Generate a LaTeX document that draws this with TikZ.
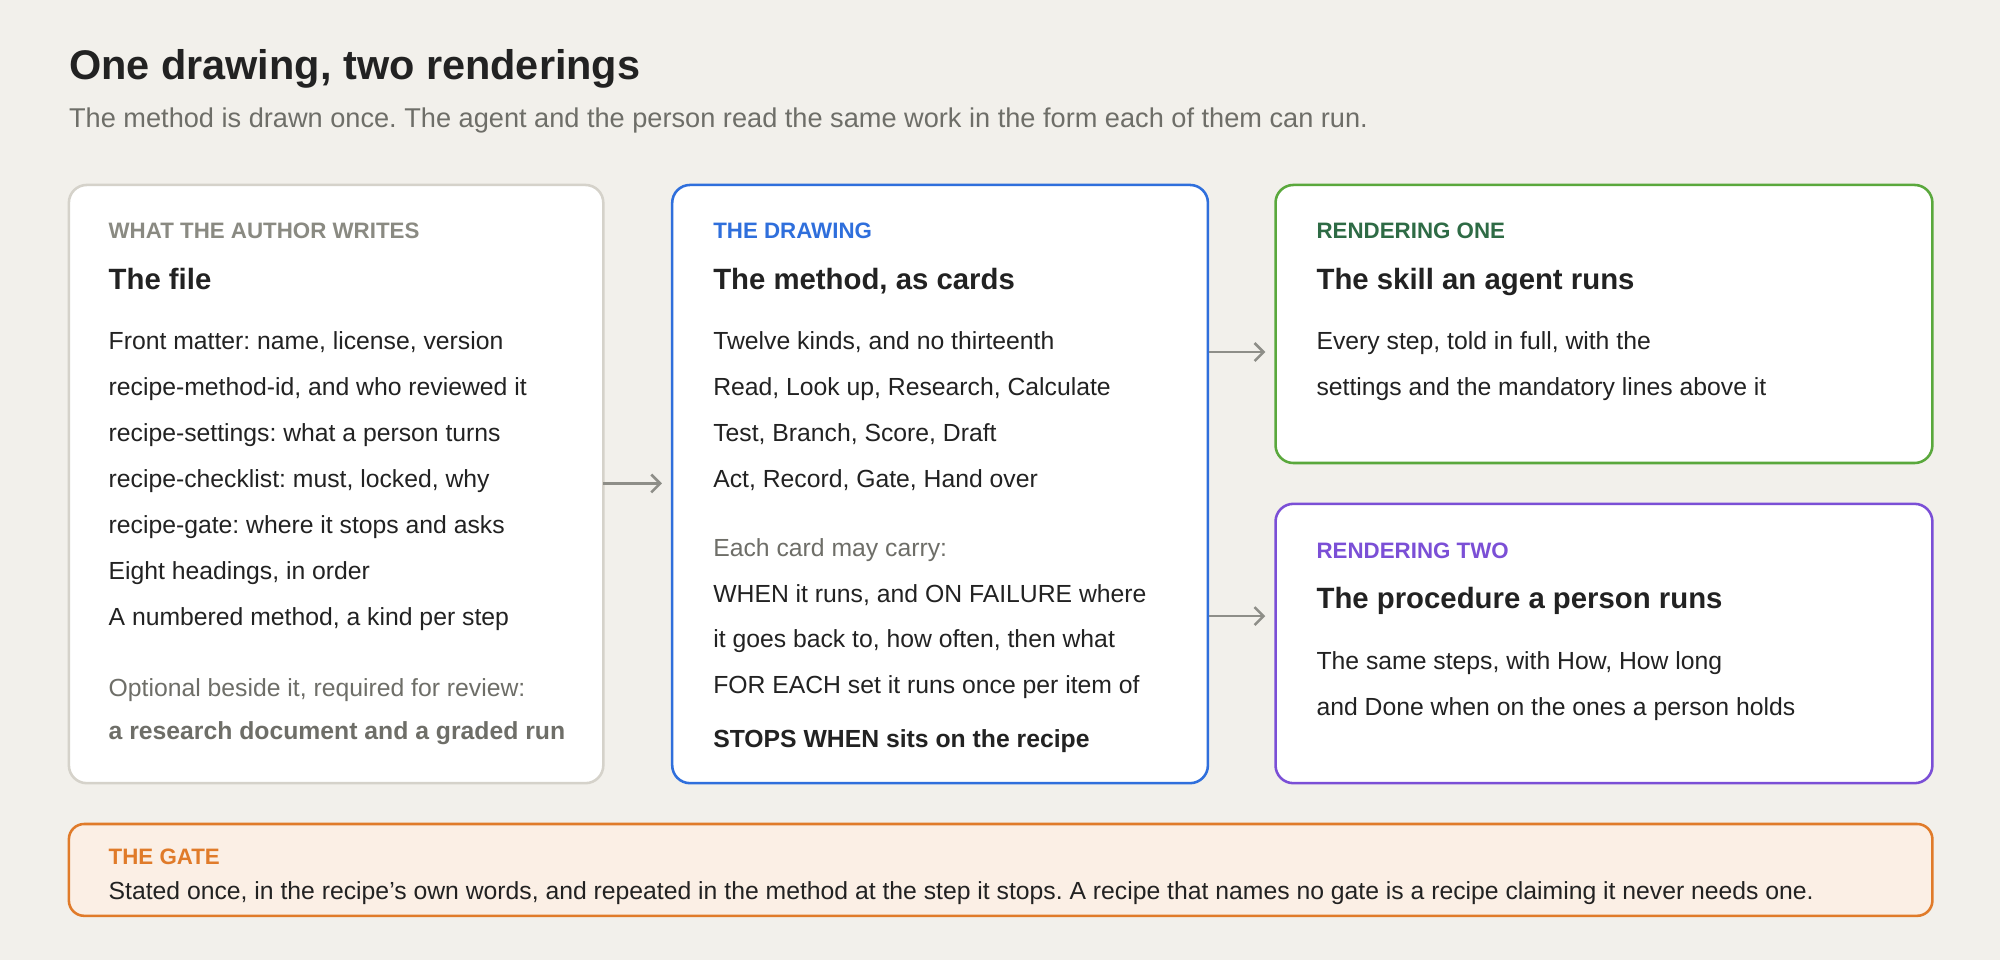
\documentclass[tikz,border=0pt]{standalone}
\usetikzlibrary{arrows.meta}
\usepackage{fontspec}
\setmainfont{Liberation Sans}
\frenchspacing
\definecolor{bg}{HTML}{F2F0EB}
\definecolor{ink}{HTML}{222222}
\definecolor{mute}{HTML}{6E6E68}
\definecolor{grayb}{HTML}{D5D2CA}
\definecolor{graylab}{HTML}{8A8A82}
\definecolor{blueb}{HTML}{2F6FDC}
\definecolor{greenb}{HTML}{5AA83C}
\definecolor{greenl}{HTML}{2E6B45}
\definecolor{purpb}{HTML}{7B4FD6}
\definecolor{orab}{HTML}{E07B2A}
\definecolor{oraf}{HTML}{FBEFE5}
\definecolor{arr}{HTML}{8E8E88}
\begin{document}
\begin{tikzpicture}[x=1pt,y=-1pt,
 box/.style={draw, line width=2pt, rounded corners=14pt, fill=white},
 t/.style={anchor=base west, inner sep=0pt, text=ink, font=\fontsize{19.4}{21}\selectfont},
 lab/.style={anchor=base west, inner sep=0pt, font=\fontsize{17.5}{19}\selectfont\bfseries},
 head/.style={anchor=base west, inner sep=0pt, text=ink, font=\fontsize{23}{25}\selectfont\bfseries},
 conn/.style={draw=arr, line width=2pt, -{Straight Barb[length=7pt,width=14pt]}}]
\useasboundingbox[fill=bg] (0,0) rectangle (1568,753);
\node[anchor=base west, inner sep=0pt, text=ink, font=\fontsize{32.5}{34}\selectfont\bfseries] (title) at (54,62) {One drawing, two renderings};
\node[anchor=base west, inner sep=0pt, text=mute, font=\fontsize{21.3}{23}\selectfont] (sub) at (54,100) {The method is drawn once. The agent and the person read the same work in the form each of them can run.};
% boxes
\draw[box, draw=grayb] (54,145) rectangle (473,614);
\coordinate (b1e) at (473,379);
\draw[box, draw=blueb] (527,145) rectangle (947,614);
\coordinate (b2w) at (519,379);
\coordinate (b2e1) at (948,276);
\coordinate (b2e2) at (948,483);
\draw[box, draw=greenb] (1000,145) rectangle (1515,363);
\coordinate (b3w) at (992,276);
\draw[box, draw=purpb] (1000,395) rectangle (1515,614);
\coordinate (b4w) at (992,483);
\draw[box, draw=orab, fill=oraf, rounded corners=12pt] (54,646) rectangle (1515,718);
% arrows
\draw[conn] (b1e) -- (b2w);
\draw[conn] (b2e1) -- (b3w);
\draw[conn] (b2e2) -- (b4w);
% box1
\node[lab, text=graylab] (l1) at (85,187) {WHAT THE AUTHOR WRITES};
\node[head] (h1) at (85,227) {The file};
\node[t] (a1) at (85,274) {Front matter: name, license, version};
\node[t] (a2) at (85,310) {recipe-method-id, and who reviewed it};
\node[t] (a3) at (85,346) {recipe-settings: what a person turns};
\node[t] (a4) at (85,382) {recipe-checklist: must, locked, why};
\node[t] (a5) at (85,418) {recipe-gate: where it stops and asks};
\node[t] (a6) at (85,454) {Eight headings, in order};
\node[t] (a7) at (85,490) {A numbered method, a kind per step};
\node[t, text=mute] (a8) at (85,546) {Optional beside it, required for review:};
\node[t, text=mute, font=\fontsize{19.4}{21}\selectfont\bfseries] (a9) at (85,580) {a research document and a graded run};
% box2
\node[lab, text=blueb] (l2) at (559,187) {THE DRAWING};
\node[head] (h2) at (559,227) {The method, as cards};
\node[t] (c1) at (559,274) {Twelve kinds, and no thirteenth};
\node[t] (c2) at (559,310) {Read, Look up, Research, Calculate};
\node[t] (c3) at (559,346) {Test, Branch, Score, Draft};
\node[t] (c4) at (559,382) {Act, Record, Gate, Hand over};
\node[t, text=mute] (c5) at (559,436) {Each card may carry:};
\node[t] (c6) at (559,472) {WHEN it runs, and ON FAILURE where};
\node[t] (c7) at (559,508) {it goes back to, how often, then what};
\node[t] (c8) at (559,544) {FOR EACH set it runs once per item of};
\node[t, font=\fontsize{19.4}{21}\selectfont\bfseries] (c9) at (559,586) {STOPS WHEN sits on the recipe};
% box3
\node[lab, text=greenl] (l3) at (1032,187) {RENDERING ONE};
\node[head] (h3) at (1032,227) {The skill an agent runs};
\node[t] (d1) at (1032,274) {Every step, told in full, with the};
\node[t] (d2) at (1032,310) {settings and the mandatory lines above it};
% box4
\node[lab, text=purpb] (l4) at (1032,438) {RENDERING TWO};
\node[head] (h4) at (1032,477) {The procedure a person runs};
\node[t] (e1) at (1032,525) {The same steps, with How, How long};
\node[t] (e2) at (1032,561) {and Done when on the ones a person holds};
% gate
\node[lab, text=orab] (l5) at (85,678) {THE GATE};
\node[t] (g1) at (85,705) {Stated once, in the recipe's own words, and repeated in the method at the step it stops. A recipe that names no gate is a recipe claiming it never needs one.};
\end{tikzpicture}
\end{document}
